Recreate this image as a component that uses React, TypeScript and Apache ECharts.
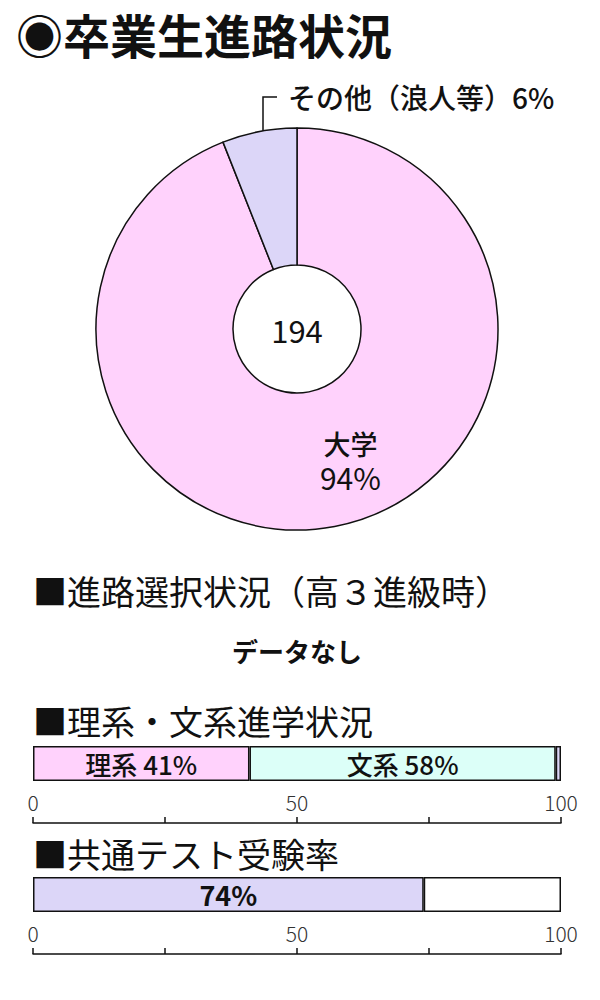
import { useEffect, useRef } from 'react';
import * as echarts from 'echarts';

// 卒業生進路
const courseNames = ['大学', 'その他（浪人等）'];
const courseValues = [94, 6];
const graduateTotal = 194;

// 理系・文系進学状況
const trackNames = ['理系', '文系', 'その他'];
const trackValues = [41, 58, 1];

// 共通テスト受験率
const testNames = ['受験', '未受験'];
const testValues = [74, 26];

const axisMin = 0;
const axisMax = 100;
const axisStep = 25;

const FONT = "'Noto Sans CJK JP', 'Noto Sans', sans-serif";
const PINK = '#ffd2fc';
const LAVENDER = '#dcd6f8';
const CYAN = '#dcfff8';

export default function App() {
  const chartRef = useRef<HTMLDivElement>(null);

  useEffect(() => {
    document.body.style.margin = '0';
    if (!chartRef.current) return;
    const chart = echarts.init(chartRef.current, undefined, { renderer: 'svg' });

    const valueAxis = (gridIndex: number) => ({
      type: 'value',
      gridIndex,
      min: axisMin,
      max: axisMax,
      interval: axisStep,
      position: 'bottom',
      offset: 42,
      splitLine: { show: false },
      axisLine: { show: true, lineStyle: { color: '#111', width: 1.5 } },
      axisTick: { show: true, inside: true, length: 6, lineStyle: { color: '#111', width: 1.5 } },
      axisLabel: {
        inside: true,
        margin: 11,
        color: '#333',
        fontSize: 21,
        fontFamily: FONT,
        fontWeight: 300,
        formatter: (v: number) => (v % 50 === 0 ? String(v) : ''),
      },
    });

    const catAxis = (gridIndex: number, name: string) => ({
      type: 'category',
      gridIndex,
      data: [name],
      show: false,
    });

    const trackColors = [PINK, CYAN, LAVENDER];
    const testColors = [LAVENDER, '#ffffff'];

    const option = {
      animation: false,
      backgroundColor: '#ffffff',
      textStyle: { fontFamily: FONT },
      grid: [
        { left: 33, width: 528, top: 746, height: 35 },
        { left: 33, width: 528, top: 877, height: 35 },
      ],
      xAxis: [valueAxis(0), valueAxis(1)],
      yAxis: [catAxis(0, '理系・文系'), catAxis(1, '共通テスト')],
      series: [
        {
          type: 'pie',
          center: [297, 329],
          radius: [64, 201],
          startAngle: 90,
          clockwise: true,
          silent: true,
          data: courseNames.map((n, i) => ({
            name: n,
            value: courseValues[i],
            itemStyle: { color: i === 0 ? PINK : LAVENDER },
          })),
          itemStyle: { borderColor: '#111', borderWidth: 1.5 },
          label: {
            show: true,
            position: 'inside',
            color: '#111',
            fontFamily: FONT,
            lineHeight: 33,
            formatter: (p: any) => (p.dataIndex === 0 ? `{a|${p.name}}\n{b|${p.value}%}` : ''),
            rich: {
              a: { fontSize: 27, fontWeight: 500, color: '#111', fontFamily: FONT, lineHeight: 33 },
              b: { fontSize: 30, fontWeight: 400, color: '#111', fontFamily: FONT, lineHeight: 33 },
            },
          },
          labelLayout: (p: any) => (p.dataIndex === 0 ? { dx: 28, dy: -2 } : {}),
          labelLine: { show: false },
        },
        ...trackNames.map((n, i) => ({
          type: 'bar',
          name: n,
          xAxisIndex: 0,
          yAxisIndex: 0,
          stack: 'track',
          barWidth: 35,
          data: [trackValues[i]],
          itemStyle: { color: trackColors[i], borderColor: '#111', borderWidth: 1.5 },
          label: {
            show: i < 2,
            position: 'inside',
            color: '#111',
            fontSize: 26,
            fontWeight: 500,
            fontFamily: FONT,
            formatter: `${n} ${trackValues[i]}%`,
          },
        })),
        ...testNames.map((n, i) => ({
          type: 'bar',
          name: n,
          xAxisIndex: 1,
          yAxisIndex: 1,
          stack: 'test',
          barWidth: 35,
          data: [testValues[i]],
          itemStyle: { color: testColors[i], borderColor: '#111', borderWidth: 1.5 },
          label: {
            show: i === 0,
            position: 'inside',
            color: '#111',
            fontSize: 27,
            fontWeight: 'bold',
            fontFamily: FONT,
            formatter: `${testValues[i]}%`,
          },
        })),
      ],
      graphic: [
        {
          type: 'text',
          x: 16,
          y: 33,
          style: {
            text: '◉卒業生進路状況',
            fontSize: 47,
            fontWeight: 'bold',
            fill: '#111',
            fontFamily: FONT,
            verticalAlign: 'middle',
          },
        },
        {
          type: 'text',
          x: 297,
          y: 329,
          style: {
            text: String(graduateTotal),
            fontSize: 31,
            fill: '#111',
            fontFamily: FONT,
            align: 'center',
            verticalAlign: 'middle',
          },
        },
        {
          type: 'polyline',
          shape: { points: [[263, 157], [263, 97], [277, 97]] },
          style: { stroke: '#111', lineWidth: 1.5, fill: 'none' },
        },
        {
          type: 'text',
          x: 288,
          y: 97,
          style: {
            text: `${courseNames[1]}${courseValues[1]}%`,
            fontSize: 28,
            fontWeight: 500,
            fill: '#111',
            fontFamily: FONT,
            verticalAlign: 'middle',
          },
        },
        {
          type: 'text',
          x: 33,
          y: 590,
          style: { text: '■進路選択状況（高３進級時）', fontSize: 34, fill: '#111', fontFamily: FONT, verticalAlign: 'middle' },
        },
        {
          type: 'text',
          x: 297,
          y: 650,
          style: {
            text: 'データなし',
            fontSize: 26,
            fontWeight: 'bold',
            fill: '#111',
            fontFamily: FONT,
            align: 'center',
            verticalAlign: 'middle',
          },
        },
        {
          type: 'text',
          x: 33,
          y: 720,
          style: { text: '■理系・文系進学状況', fontSize: 34, fill: '#111', fontFamily: FONT, verticalAlign: 'middle' },
        },
        {
          type: 'text',
          x: 33,
          y: 853,
          style: { text: '■共通テスト受験率', fontSize: 34, fill: '#111', fontFamily: FONT, verticalAlign: 'middle' },
        },
      ],
    };

    chart.setOption(option as any);

    const handleResize = () => chart.resize();
    window.addEventListener('resize', handleResize);
    return () => {
      window.removeEventListener('resize', handleResize);
      chart.dispose();
    };
  }, []);

  return <div ref={chartRef} style={{ width: '600px', height: '1000px' }} />;
}
